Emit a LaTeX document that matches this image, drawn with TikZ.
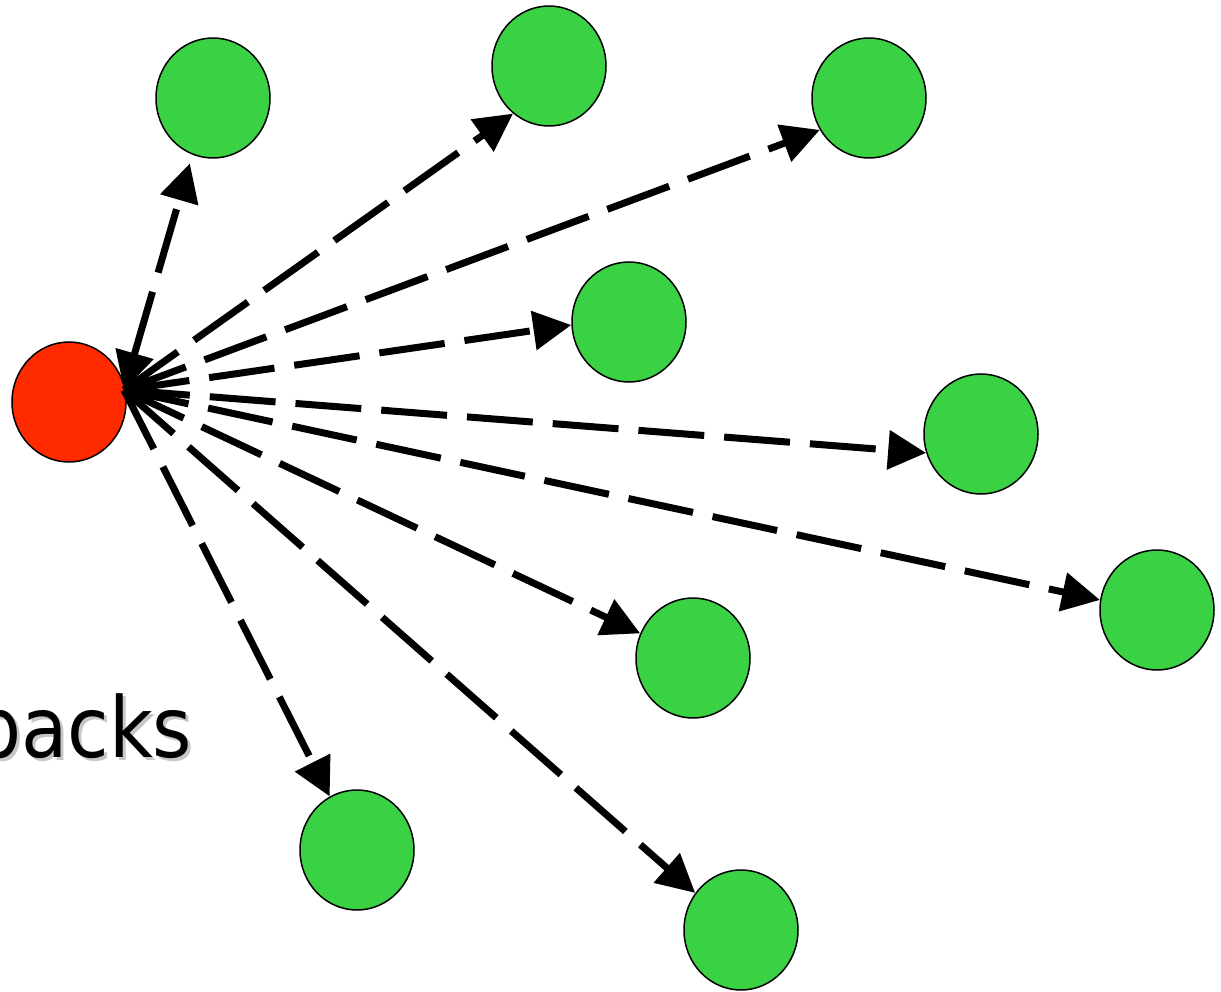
\documentclass[tikz,border=0pt]{standalone}
\usepackage{fontspec}
\setmainfont{DejaVu Sans}
\usetikzlibrary{arrows.meta,shapes.geometric}
\definecolor{gnode}{RGB}{58,210,68}
\definecolor{rnode}{RGB}{255,42,0}
\tikzset{
  gn/.style={ellipse,draw=black,line width=1.5pt,fill=gnode,minimum width=114pt,minimum height=120pt,inner sep=0pt},
  rn/.style={ellipse,draw=black,line width=1.5pt,fill=rnode,minimum width=114pt,minimum height=120pt,inner sep=0pt},
  link/.style={line width=7pt,dash pattern=on 66pt off 20pt,-{Triangle[length=38pt,width=38pt]}},
  blink/.style={line width=7pt,dash pattern=on 66pt off 20pt,{Triangle[length=38pt,width=38pt]}-{Triangle[length=38pt,width=38pt]}},
  lbltext/.style={font=\fontsize{84}{94}\selectfont,anchor=base west,xscale=0.9,inner sep=0pt}
}
\begin{document}
\begin{tikzpicture}[x=1pt,y=-1pt]
\useasboundingbox (0,0) rectangle (1221,992);
\node[lbltext,text=black!22] (shadow) at (-24,760) {backs};
\node[lbltext,text=black] (lbl) at (-27,757) {backs};
\node[rn] (r) at (69,402) {};
\coordinate (o) at (124,390);
\node[gn] (g1) at (213,98) {};
\node[gn] (g2) at (549,66) {};
\node[gn] (g3) at (869,98) {};
\node[gn] (g4) at (629,322) {};
\node[gn] (g5) at (981,434) {};
\node[gn] (g6) at (1157,610) {};
\node[gn] (g7) at (693,658) {};
\node[gn] (g8) at (357,850) {};
\node[gn] (g9) at (741,930) {};
\draw[blink,shorten >=9pt] (o) -- (g1.250);
\draw[link] (o) -- (g2.233);
\draw[link] (o) -- (g3.213);
\draw[link] (o) -- (g4.183);
\draw[link] (o) -- (g5.199);
\draw[link] (o) -- (g6.170);
\draw[link] (o) -- (g7.155);
\draw[link] (o) -- (g8.117);
\draw[link] (o) -- (g9.141);
\end{tikzpicture}
\end{document}
